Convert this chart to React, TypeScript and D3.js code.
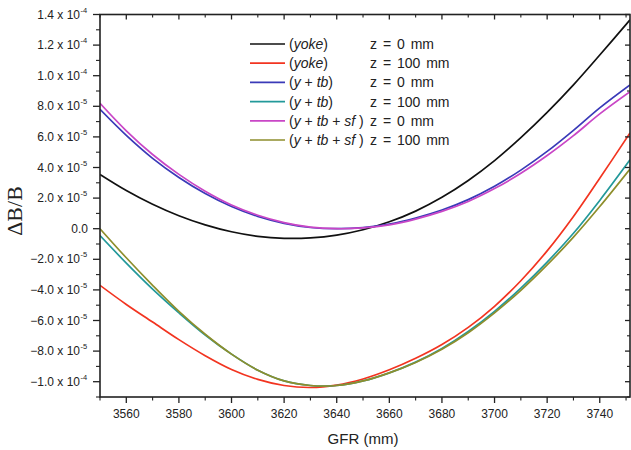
import React from "react";
import * as d3 from "d3";

// GFR positions (mm)
const GFR = [3550, 3560, 3570, 3580, 3590, 3600, 3610, 3620, 3630, 3640, 3650, 3660, 3670, 3680, 3690, 3700, 3710, 3720, 3730, 3740, 3751.5];

// ΔB/B values in units of 1e-5
const yokeZ0 = [3.55, 2.5, 1.6, 0.85, 0.25, -0.2, -0.5, -0.63, -0.6, -0.42, -0.07, 0.45, 1.15, 2.05, 3.15, 4.45, 5.95, 7.6, 9.4, 11.35, 13.65];
const yokeZ100 = [-3.7, -4.95, -6.1, -7.25, -8.3, -9.2, -9.85, -10.25, -10.38, -10.22, -9.82, -9.22, -8.47, -7.57, -6.45, -5.07, -3.4, -1.45, 0.8, 3.3, 6.25];
const ytbZ0 = [7.8, 6.1, 4.6, 3.35, 2.3, 1.45, 0.8, 0.35, 0.08, 0.0, 0.07, 0.3, 0.7, 1.22, 1.9, 2.77, 3.83, 5.05, 6.43, 7.9, 9.4];
const ytbZ100 = [-0.45, -2.25, -3.95, -5.5, -6.95, -8.2, -9.25, -9.95, -10.25, -10.25, -9.95, -9.42, -8.72, -7.83, -6.72, -5.4, -3.88, -2.18, -0.3, 1.85, 4.5];
const ytbsfZ0 = [8.2, 6.4, 4.85, 3.55, 2.45, 1.55, 0.88, 0.4, 0.1, 0.0, 0.05, 0.25, 0.63, 1.13, 1.78, 2.62, 3.62, 4.78, 6.08, 7.5, 8.95];
const ytbsfZ100 = [0.0, -1.9, -3.7, -5.4, -6.9, -8.2, -9.25, -9.95, -10.25, -10.25, -9.95, -9.42, -8.74, -7.88, -6.8, -5.5, -4.03, -2.37, -0.55, 1.45, 3.9];

const seriesNames = ["yokeZ0", "yokeZ100", "ytbZ0", "ytbZ100", "ytbsfZ0", "ytbsfZ100"];
const seriesValues = [yokeZ0, yokeZ100, ytbZ0, ytbZ100, ytbsfZ0, ytbsfZ100];
const seriesColors = ["#111111", "#f23420", "#3a3ab8", "#23999a", "#c946c6", "#8e8e2c"];
// legend label parts: [text, italic]
const legendLabels: [string, boolean][][] = [
  [["(", false], ["yoke", true], [")", false]],
  [["(", false], ["yoke", true], [")", false]],
  [["(", false], ["y", true], [" + ", false], ["tb", true], [")", false]],
  [["(", false], ["y", true], [" + ", false], ["tb", true], [")", false]],
  [["(", false], ["y", true], [" + ", false], ["tb", true], [" + ", false], ["sf", true], [" )", false]],
  [["(", false], ["y", true], [" + ", false], ["tb", true], [" + ", false], ["sf", true], [" )", false]],
];
const legendZ = ["z = 0 mm", "z = 100 mm", "z = 0 mm", "z = 100 mm", "z = 0 mm", "z = 100 mm"];

const xTicks = [3560, 3580, 3600, 3620, 3640, 3660, 3680, 3700, 3720, 3740];
const xMinorTicks = [3550, 3570, 3590, 3610, 3630, 3650, 3670, 3690, 3710, 3730, 3750];
const yTicks = [14, 12, 10, 8, 6, 4, 2, 0, -2, -4, -6, -8, -10];
const yTickMantissa = ["1.4", "1.2", "1.0", "8.0", "6.0", "4.0", "2.0", "0.0", "\u22122.0", "\u22124.0", "\u22126.0", "\u22128.0", "\u22121.0"];
const yTickExponent = ["-4", "-4", "-4", "-5", "-5", "-5", "-5", "", "-5", "-5", "-5", "-5", "-4"];
const yMinorTicks = [13, 11, 9, 7, 5, 3, 1, -1, -3, -5, -7, -9, -11];

export default function App() {
  const W = 631, H = 450;
  const left = 100, right = 630, top = 14.5, bottom = 397;
  const x = d3.scaleLinear().domain([3550, 3751.5]).range([left, right]);
  const y = d3.scaleLinear().domain([-11, 14]).range([bottom, top]);
  const line = d3
    .line<[number, number]>()
    .x((d) => x(d[0]))
    .y((d) => y(d[1]))
    .curve(d3.curveCatmullRom.alpha(0.5));
  const font = "Liberation Sans, Arial, sans-serif";
  const axisColor = "#222";

  return (
    <svg width={W} height={H} style={{ position: "absolute", left: 0, top: 0, background: "#fff" }}>
      <defs>
        <clipPath id="plotclip">
          <rect x={left} y={top} width={right - left} height={bottom - top} />
        </clipPath>
      </defs>
      <rect x={0} y={0} width={W} height={H} fill="#fff" />
      {/* curves */}
      <g clipPath="url(#plotclip)">
        {seriesValues.map((vals, i) => (
          <path
            key={seriesNames[i]}
            d={line(GFR.map((g, j) => [g, vals[j]] as [number, number])) || ""}
            fill="none"
            stroke={seriesColors[i]}
            strokeWidth={1.7}
          />
        ))}
      </g>
      {/* frame */}
      <rect x={left} y={top} width={right - left} height={bottom - top} fill="none" stroke={axisColor} strokeWidth={1.6} />
      {/* x ticks */}
      {xTicks.map((t) => (
        <g key={"xt" + t}>
          <line x1={x(t)} x2={x(t)} y1={bottom} y2={bottom + 6} stroke={axisColor} strokeWidth={1.3} />
          <line x1={x(t)} x2={x(t)} y1={top} y2={top + 5} stroke={axisColor} strokeWidth={1.3} />
          <text x={x(t)} y={bottom + 21} textAnchor="middle" fontFamily={font} fontSize={12} fill="#222">
            {t}
          </text>
        </g>
      ))}
      {xMinorTicks.map((t) => (
        <g key={"xm" + t}>
          <line x1={x(t)} x2={x(t)} y1={bottom} y2={bottom + 3.5} stroke={axisColor} strokeWidth={1.1} />
          <line x1={x(t)} x2={x(t)} y1={top} y2={top + 3} stroke={axisColor} strokeWidth={1.1} />
        </g>
      ))}
      {/* y ticks */}
      {yTicks.map((t, i) => (
        <g key={"yt" + t}>
          <line x1={left - 7} x2={left} y1={y(t)} y2={y(t)} stroke={axisColor} strokeWidth={1.3} />
          <line x1={right - 5} x2={right} y1={y(t)} y2={y(t)} stroke={axisColor} strokeWidth={1.3} />
          <text x={yTickExponent[i] ? 80 : 88} y={y(t) + 4} textAnchor="end" fontFamily={font} fontSize={12} fill="#222">
            {yTickMantissa[i]}
            {yTickExponent[i] ? " x 10" : ""}
          </text>
          {yTickExponent[i] ? (
            <text x={80.5} y={y(t) - 2} textAnchor="start" fontFamily={font} fontSize={7.5} fill="#222">
              {yTickExponent[i]}
            </text>
          ) : null}
        </g>
      ))}
      {yMinorTicks.map((t) => (
        <g key={"ym" + t}>
          <line x1={left - 4} x2={left} y1={y(t)} y2={y(t)} stroke={axisColor} strokeWidth={1.1} />
          <line x1={right - 3} x2={right} y1={y(t)} y2={y(t)} stroke={axisColor} strokeWidth={1.1} />
        </g>
      ))}
      {/* axis titles */}
      <text x={363} y={444} textAnchor="middle" fontFamily={font} fontSize={15} fill="#222">
        GFR (mm)
      </text>
      <text
        transform={`translate(22, 211) rotate(-90)`}
        textAnchor="middle"
        fontFamily="Liberation Serif, Times New Roman, serif"
        fontSize={22}
        fill="#222"
      >
        ΔB/B
      </text>
      {/* legend */}
      {seriesNames.map((n, i) => {
        const cy = 44 + i * 19.2;
        return (
          <g key={"lg" + n}>
            <line x1={250} x2={285} y1={cy} y2={cy} stroke={seriesColors[i]} strokeWidth={1.7} />
            <text x={289} y={cy + 5} fontFamily={font} fontSize={14} fill="#222">
              {legendLabels[i].map((p, k) => (
                <tspan key={k} fontStyle={p[1] ? "italic" : "normal"}>
                  {p[0]}
                </tspan>
              ))}
            </text>
            <text x={370} y={cy + 5} fontFamily={font} fontSize={14} fill="#222" wordSpacing={2}>
              {legendZ[i]}
            </text>
          </g>
        );
      })}
    </svg>
  );
}
